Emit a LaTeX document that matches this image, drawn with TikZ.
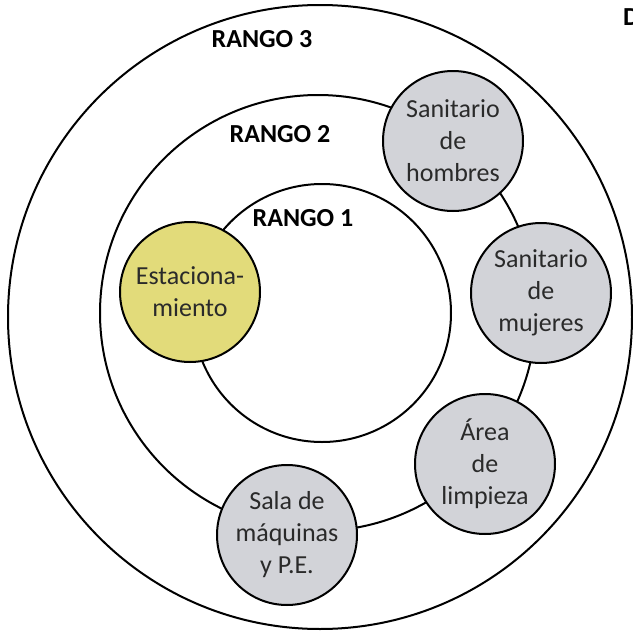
\documentclass[tikz,border=0pt]{standalone}
\usepackage{fontspec}
\setmainfont{Carlito}
\usepackage{tikz}
\definecolor{zonagris}{HTML}{D2D3D8}
\definecolor{zonaamarilla}{HTML}{E2DB7A}
\definecolor{textogris}{HTML}{2A2A2A}

\begin{document}
\begin{tikzpicture}[x=1pt,y=-1pt,
    rango/.style={draw=black, line width=2pt, circle, minimum size=#1, inner sep=0pt},
    area/.style={draw=black, line width=2pt, circle, minimum size=140pt, inner sep=0pt,
        fill=#1, align=center, text=textogris, font=\fontsize{26}{32}\selectfont},
    etiqueta/.style={anchor=base, inner sep=0pt, font=\fontsize{26}{30}\selectfont\bfseries}]
    \useasboundingbox (0,0) rectangle (633,632);
    \clip (0,0) rectangle (633,632);

    % anillos de rango
    \node[rango=624pt] (rango3) at (320,317) {};
    \node[rango=436pt] (rango2) at (318,313) {};
    \node[rango=258pt] (rango1) at (322,313) {};

    \node[etiqueta] (lbl3) at (262,47) {RANGO 3};
    \node[etiqueta] (lbl2) at (280,142) {RANGO 2};
    \node[etiqueta] (lbl1) at (303,226) {RANGO 1};
    \node[etiqueta, anchor=base west] (lblD) at (623,25) {D};

    % areas
    \node[area=zonaamarilla] (estac) at (190,292) {Estaciona-\\miento};
    \node[area=zonagris] (sanhom) at (453,141) {Sanitario\\de\\hombres};
    \node[area=zonagris] (sanmuj) at (541,293) {Sanitario\\de\\mujeres};
    \node[area=zonagris] (limpieza) at (485,464) {Área\\de\\limpieza};
    \node[area=zonagris] (maquinas) at (287,535) {Sala de\\máquinas\\y P.E.};
\end{tikzpicture}
\end{document}
